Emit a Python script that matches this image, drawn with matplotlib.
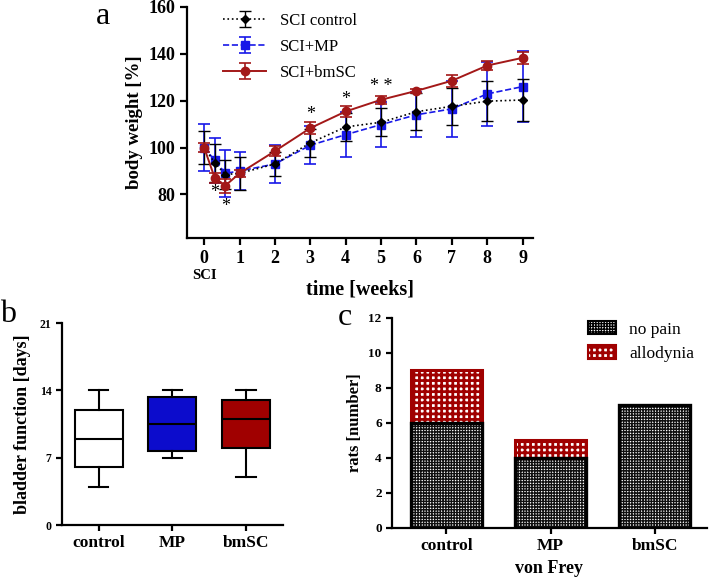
import numpy as np
import matplotlib
matplotlib.use("Agg")
import matplotlib.pyplot as plt
from matplotlib.patches import Patch
from matplotlib.transforms import blended_transform_factory

plt.rcParams["font.family"] = ["Liberation Serif", "DejaVu Serif"]
plt.rcParams["axes.linewidth"] = 1.6
plt.rcParams["xtick.major.width"] = 1.6
plt.rcParams["ytick.major.width"] = 1.6

# ---- panel a: body weight over time ----
weeks = [0, 0.3, 0.6, 1, 2, 3, 4, 5, 6, 7, 8, 9]
ctrl_mean = [100, 93.5, 88.5, 89, 93, 102, 108.8, 110.8, 115.3, 117.6, 119.8, 120.3]
ctrl_sd = [7, 8, 6, 7, 5, 6, 6, 6, 8, 8, 8.5, 9]
mp_mean = [100, 94.5, 89, 90, 93, 101, 105.5, 109.8, 114, 116.5, 122.9, 126]
mp_sd = [10, 9.5, 10, 8, 8, 8, 9.5, 9.5, 9.5, 12, 13.5, 15]
bm_mean = [100, 87, 83.8, 89, 98.5, 108.3, 115.4, 120.4, 124.2, 128.5, 135, 138.3]
bm_sd = [2, 2, 3, 1.5, 2, 2.5, 2.5, 1.8, 1, 2.5, 2, 2.5]
star_x = [0.3, 0.6, 3, 4, 5]
star_y = [81, 75, 114, 120.5, 126]
star_txt = ["*", "*", "*", "*", "* *"]

# ---- panel b: bladder function (box stats) ----
groups = ["control", "MP", "bmSC"]
box_whislo = [4, 7, 5]
box_q1 = [6, 7.7, 8]
box_med = [9, 10.5, 11]
box_q3 = [12, 13.3, 13]
box_whishi = [14, 14, 14]
box_colors = ["white", "#0c0ccc", "#a00000"]

# ---- panel c: von Frey ----
no_pain = [6, 4, 7]
allodynia = [3, 1, 0]

fig = plt.figure(figsize=(7.09, 5.80), dpi=100)

# panel a
ax = fig.add_axes([0.264, 0.590, 0.488, 0.398])
ax.errorbar(weeks, mp_mean, yerr=mp_sd, color="#1818e8", ls="--", lw=1.2,
            marker="s", ms=5.5, capsize=4, elinewidth=1.2, capthick=1.2,
            label="SCI+MP", zorder=2)
ax.errorbar(weeks, ctrl_mean, yerr=ctrl_sd, color="black", ls=":", lw=1.2,
            marker="D", ms=4, capsize=4, elinewidth=1.0, capthick=1.0,
            label="SCI control", zorder=3)
ax.errorbar(weeks, bm_mean, yerr=bm_sd, color="#a31818", ls="-", lw=1.4,
            marker="o", ms=6, capsize=4, elinewidth=1.2, capthick=1.2,
            label="SCI+bmSC", zorder=4)
for sx, sy, st in zip(star_x, star_y, star_txt):
    ax.text(sx, sy, st, ha="center", va="center", fontsize=13)
ax.set_xlim(-0.48, 9.3)
ax.set_ylim(61.5, 160)
ax.set_yticks([80, 100, 120, 140, 160])
ax.set_xticks(range(10))
ax.tick_params(labelsize=13, length=5)
for lab in ax.get_xticklabels() + ax.get_yticklabels():
    lab.set_fontweight("bold")
ax.spines["top"].set_visible(False)
ax.spines["right"].set_visible(False)
ax.set_xlabel("time [weeks]", fontsize=14.5, fontweight="bold", labelpad=9)
ax.set_ylabel("body weight [%]", fontsize=13.5, fontweight="bold", labelpad=4)
tr = blended_transform_factory(ax.transData, ax.transAxes)
ax.text(0, -0.165, "SCI", transform=tr, ha="center", va="center",
        fontsize=10.5, fontweight="bold")
h, l = ax.get_legend_handles_labels()
order = [1, 0, 2]
ax.legend([h[i] for i in order], [l[i] for i in order], loc="upper left",
          bbox_to_anchor=(0.06, 1.04), frameon=False, fontsize=12,
          handlelength=2.6, labelspacing=0.6)
fig.text(0.145, 0.972, "a", fontsize=23, ha="center", va="center")

# panel b
axb = fig.add_axes([0.0874, 0.0948, 0.3116, 0.348])
stats = []
for i, g in enumerate(groups):
    stats.append(dict(label=g, whislo=box_whislo[i], q1=box_q1[i],
                      med=box_med[i], q3=box_q3[i], whishi=box_whishi[i]))
bp = axb.bxp(stats, positions=range(3), widths=0.65, patch_artist=True,
             showfliers=False,
             boxprops=dict(linewidth=1.5, edgecolor="black"),
             medianprops=dict(color="black", linewidth=1.5),
             whiskerprops=dict(linewidth=1.5),
             capprops=dict(linewidth=1.5))
for patch, c in zip(bp["boxes"], box_colors):
    patch.set_facecolor(c)
for cap in bp["caps"]:
    xd = cap.get_xdata()
    mid = (xd[0] + xd[1]) / 2
    cap.set_xdata([mid - 0.13, mid + 0.13])
axb.set_xlim(-0.5, 2.5)
axb.set_ylim(0, 21)
axb.set_yticks([0, 7, 14, 21])
axb.tick_params(axis="y", labelsize=8.5, length=4)
axb.tick_params(axis="x", labelsize=12.5, length=4)
for lab in axb.get_xticklabels() + axb.get_yticklabels():
    lab.set_fontweight("bold")
axb.spines["top"].set_visible(False)
axb.spines["right"].set_visible(False)
axb.set_ylabel("bladder function [days]", fontsize=13, fontweight="bold",
               labelpad=6)
fig.text(0.012, 0.457, "b", fontsize=23, ha="center", va="center")

# panel c
axc = fig.add_axes([0.553, 0.0897, 0.444, 0.3623])
xc = np.arange(3)
plt.rcParams["hatch.linewidth"] = 1.0
axc.bar(xc, no_pain, width=0.68, color="white", edgecolor="#101010",
        hatch="++++++", linewidth=0)
plt.rcParams["hatch.linewidth"] = 2.0
axc.bar(xc, allodynia, width=0.68, bottom=no_pain, color="white",
        edgecolor="#a00000", hatch="+++", linewidth=0)
for i in range(3):
    if allodynia[i] > 0:
        axc.bar(xc[i], allodynia[i], width=0.68, bottom=no_pain[i],
                color="none", edgecolor="#a00000", linewidth=2.2)
axc.bar(xc, no_pain, width=0.68, color="none", edgecolor="black", linewidth=2.4)
axc.set_xticks(xc)
axc.set_xticklabels(groups)
axc.set_xlim(-0.52, 2.5)
axc.set_ylim(0, 12)
axc.set_yticks(range(0, 13, 2))
axc.tick_params(axis="y", labelsize=9.5, length=4)
axc.tick_params(axis="x", labelsize=12.5, length=4)
for lab in axc.get_xticklabels() + axc.get_yticklabels():
    lab.set_fontweight("bold")
axc.spines["top"].set_visible(False)
axc.spines["right"].set_visible(False)
axc.set_ylabel("rats [number]", fontsize=12, fontweight="bold")
axc.set_xlabel("von Frey", fontsize=13, fontweight="bold", labelpad=4)
h1 = Patch(facecolor="white", edgecolor="black", hatch="++++++", linewidth=1.5)
h2 = Patch(facecolor="white", edgecolor="#a00000", hatch="+++", linewidth=1.5)
leg = axc.legend([h1, h2], ["no pain", "allodynia"], loc="upper right",
                 bbox_to_anchor=(1.01, 1.06), frameon=False, fontsize=12.5,
                 handlelength=1.6, handleheight=0.8, labelspacing=0.45)
for hp, hlw in zip(leg.legend_handles, [1.0, 2.0]):
    if hasattr(hp, "set_hatch_linewidth"):
        hp.set_hatch_linewidth(hlw)
    else:
        hp._hatch_linewidth = hlw
fig.text(0.487, 0.453, "c", fontsize=23, ha="center", va="center")

fig.savefig("out.png", dpi=100)
